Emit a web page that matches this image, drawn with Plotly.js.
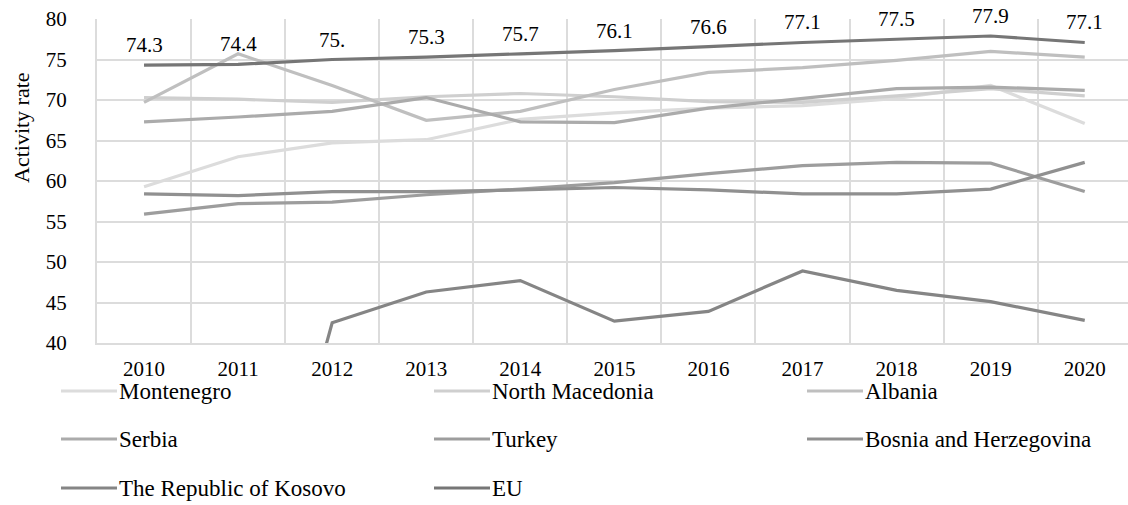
<!DOCTYPE html>
<html>
<head>
<meta charset="utf-8">
<script src="https://cdn.plot.ly/plotly-3.0.1.min.js"></script>
<style>html,body{margin:0;padding:0;background:#fff;}#chart{width:1128px;height:505px;}</style>
</head>
<body>
<div id="chart"></div>
<script>
var years = ["2010","2011","2012","2013","2014","2015","2016","2017","2018","2019","2020"];
var seriesNames = ["Montenegro","North Macedonia","Albania","Serbia","Turkey","Bosnia and Herzegovina","The Republic of Kosovo","EU"];
var montenegro = [59.3, 63.0, 64.7, 65.1, 67.6, 68.4, 69.0, 69.3, 70.2, 71.8, 67.1];
var northMacedonia = [70.3, 70.1, 69.7, 70.4, 70.8, 70.4, 69.8, 69.7, 70.5, 71.4, 70.5];
var albania = [69.7, 75.7, 71.8, 67.5, 68.6, 71.3, 73.4, 74.0, 74.9, 76.0, 75.3];
var serbia = [67.3, 67.9, 68.6, 70.3, 67.3, 67.2, 69.0, 70.2, 71.4, 71.6, 71.2];
var turkey = [55.9, 57.2, 57.4, 58.3, 59.0, 59.8, 60.9, 61.9, 62.3, 62.2, 58.7];
var bosnia = [58.4, 58.2, 58.7, 58.7, 58.9, 59.2, 58.9, 58.4, 58.4, 59.0, 62.3];
var kosovo = [null, 0, 42.5, 46.3, 47.7, 42.7, 43.9, 48.9, 46.5, 45.1, 42.8];
var eu = [74.3, 74.4, 75.0, 75.3, 75.7, 76.1, 76.6, 77.1, 77.5, 77.9, 77.1];
var euLabels = ["74.3","74.4","75.","75.3","75.7","76.1","76.6","77.1","77.5","77.9","77.1"];
var yTicks = [40,45,50,55,60,65,70,75,80];

var allValues = [montenegro, northMacedonia, albania, serbia, turkey, bosnia, kosovo, eu];
var colors = ["#dcdcdc","#cfcfcf","#bfbfbf","#ababab","#9d9d9d","#909090","#858585","#767676"];
var FONT = "'Liberation Serif', 'Times New Roman', Times, serif";

var traces = allValues.map(function(v, i){
  return {
    type: "scatter", mode: "lines", x: years, y: v, name: seriesNames[i],
    line: {color: colors[i], width: 3.2}, showlegend: false, hoverinfo: "x+y+name"
  };
});

var shapes = [], annotations = [];
// EU data labels (category axis: x is the category index)
eu.forEach(function(v, i){
  annotations.push({x: i, y: v, xref: "x", yref: "y", text: euLabels[i], showarrow: false,
    yanchor: "bottom", xanchor: "center", yshift: 6,
    font: {family: FONT, size: 21, color: "#000"}});
});
// custom legend (3 columns)
var colX = [61, 434, 807], rowY = [391, 439, 488];
seriesNames.forEach(function(n, i){
  var c = i % 3, r = Math.floor(i / 3);
  var x0 = colX[c], yy = rowY[r];
  shapes.push({type: "line", xref: "paper", yref: "paper",
    x0: (x0 - 97) / 1031, x1: (x0 + 56 - 97) / 1031,
    y0: (343 - yy) / 324, y1: (343 - yy) / 324,
    line: {color: colors[i], width: 3.2}});
  annotations.push({xref: "paper", yref: "paper", x: (x0 + 56 - 97) / 1031, y: (343 - yy) / 324,
    xanchor: "left", yanchor: "middle", showarrow: false, text: n,
    font: {family: FONT, size: 23, color: "#000"}});
});
annotations.push({xref: "paper", yref: "paper", x: (21 - 97) / 1031, y: (343 - 128) / 324,
  xanchor: "center", yanchor: "middle", showarrow: false, text: "Activity rate", textangle: -90,
  font: {family: FONT, size: 22, color: "#000"}});

var layout = {
  width: 1128, height: 505,
  margin: {l: 97, r: 0, t: 19, b: 162, pad: 0},
  paper_bgcolor: "#fff", plot_bgcolor: "#fff",
  font: {family: FONT, size: 21, color: "#000"},
  showlegend: false,
  xaxis: {type: "category", range: [-0.5, 10.46], tickson: "boundaries", ticks: "",
    showgrid: true, gridcolor: "#dcdcdc", gridwidth: 2, zeroline: false,
    showline: true, linecolor: "#dcdcdc", linewidth: 2, ticklabelstandoff: 6,
    tickfont: {family: FONT, size: 21, color: "#000"}, fixedrange: true},
  yaxis: {range: [40, 80], tickvals: yTicks, ticktext: yTicks.map(String), ticks: "",
    showgrid: true, gridcolor: "#dcdcdc", gridwidth: 2, zeroline: false,
    showline: true, linecolor: "#dcdcdc", linewidth: 2, ticklabelstandoff: 24,
    tickfont: {family: FONT, size: 21, color: "#000"}, fixedrange: true},
  shapes: shapes,
  annotations: annotations
};
Plotly.newPlot("chart", traces, layout, {displayModeBar: false, staticPlot: true});
</script>
</body>
</html>
